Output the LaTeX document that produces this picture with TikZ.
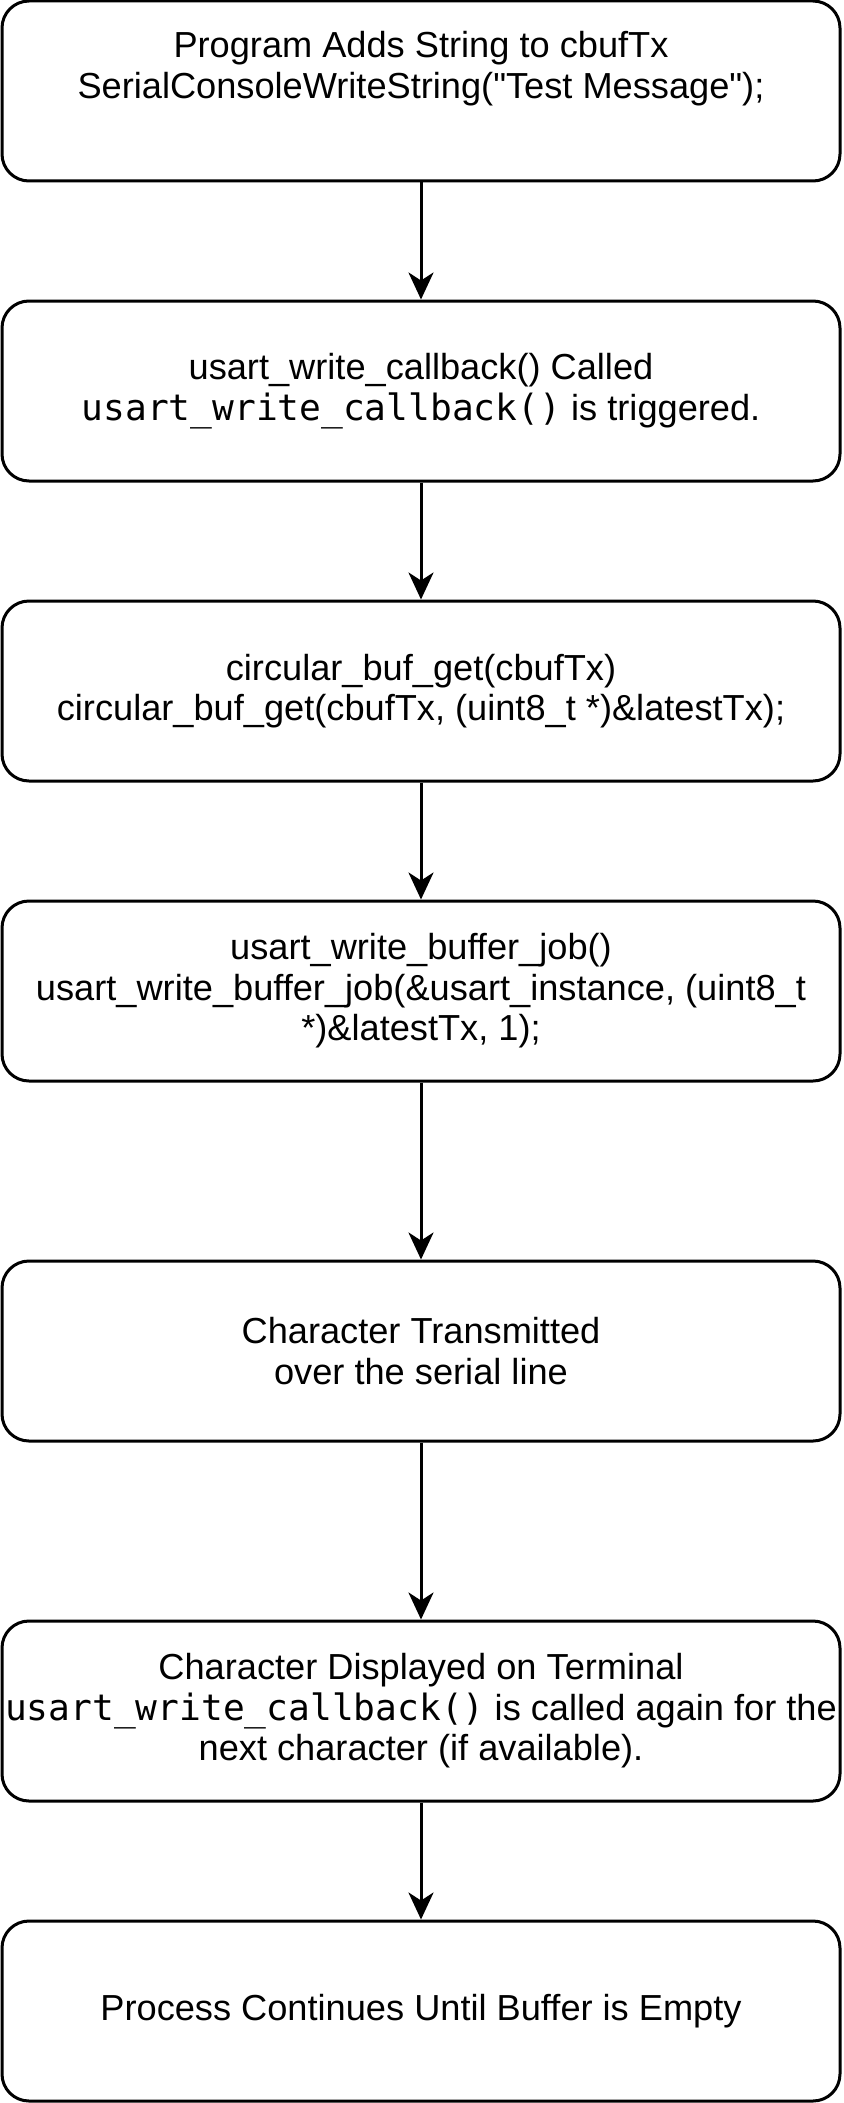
\documentclass[tikz,border=0pt]{standalone}
\usepackage{fontspec}
\setmainfont{Liberation Sans}[Ligatures=TeXOff]
\setmonofont{DejaVu Sans Mono}
\usetikzlibrary{arrows.meta}
\begin{document}
\begin{tikzpicture}[x=1pt,y=-1pt,
  flowbox/.style={draw=black, line width=3pt, rounded corners=27pt, fill=white,
    minimum width=838pt, minimum height=180pt, inner sep=0pt, align=center,
    font=\fontsize{36.2}{40.5}\selectfont},
  flowarrow/.style={draw=black, line width=3pt,
    -{Stealth[length=27pt,width=25pt,inset=8pt]}}]
\useasboundingbox (0,0) rectangle (843,2103);
\node[flowbox] (b1) at (421,91) {Program Adds String to cbufTx\\SerialConsoleWriteString("Test Message");\\\strut};
\node[flowbox] (b2) at (421,391) {usart\_write\_callback() Called\\\texttt{usart\_write\_callback()} is triggered.};
\node[flowbox] (b3) at (421,691) {circular\_buf\_get(cbufTx)\\circular\_buf\_get(cbufTx, (uint8\_t *)\&latestTx);};
\node[flowbox] (b4) at (421,991) {usart\_write\_buffer\_job()\\usart\_write\_buffer\_job(\&usart\_instance, (uint8\_t\\*)\&latestTx, 1);};
\node[flowbox] (b5) at (421,1351) {Character Transmitted\\over the serial line};
\node[flowbox] (b6) at (421,1711) {Character Displayed on Terminal\\\texttt{usart\_write\_callback()} is called again for the\\next character (if available).};
\node[flowbox] (b7) at (421,2011) {Process Continues Until Buffer is Empty};
\draw[flowarrow] (b1) -- (b2);
\draw[flowarrow] (b2) -- (b3);
\draw[flowarrow] (b3) -- (b4);
\draw[flowarrow] (b4) -- (b5);
\draw[flowarrow] (b5) -- (b6);
\draw[flowarrow] (b6) -- (b7);
\end{tikzpicture}
\end{document}
